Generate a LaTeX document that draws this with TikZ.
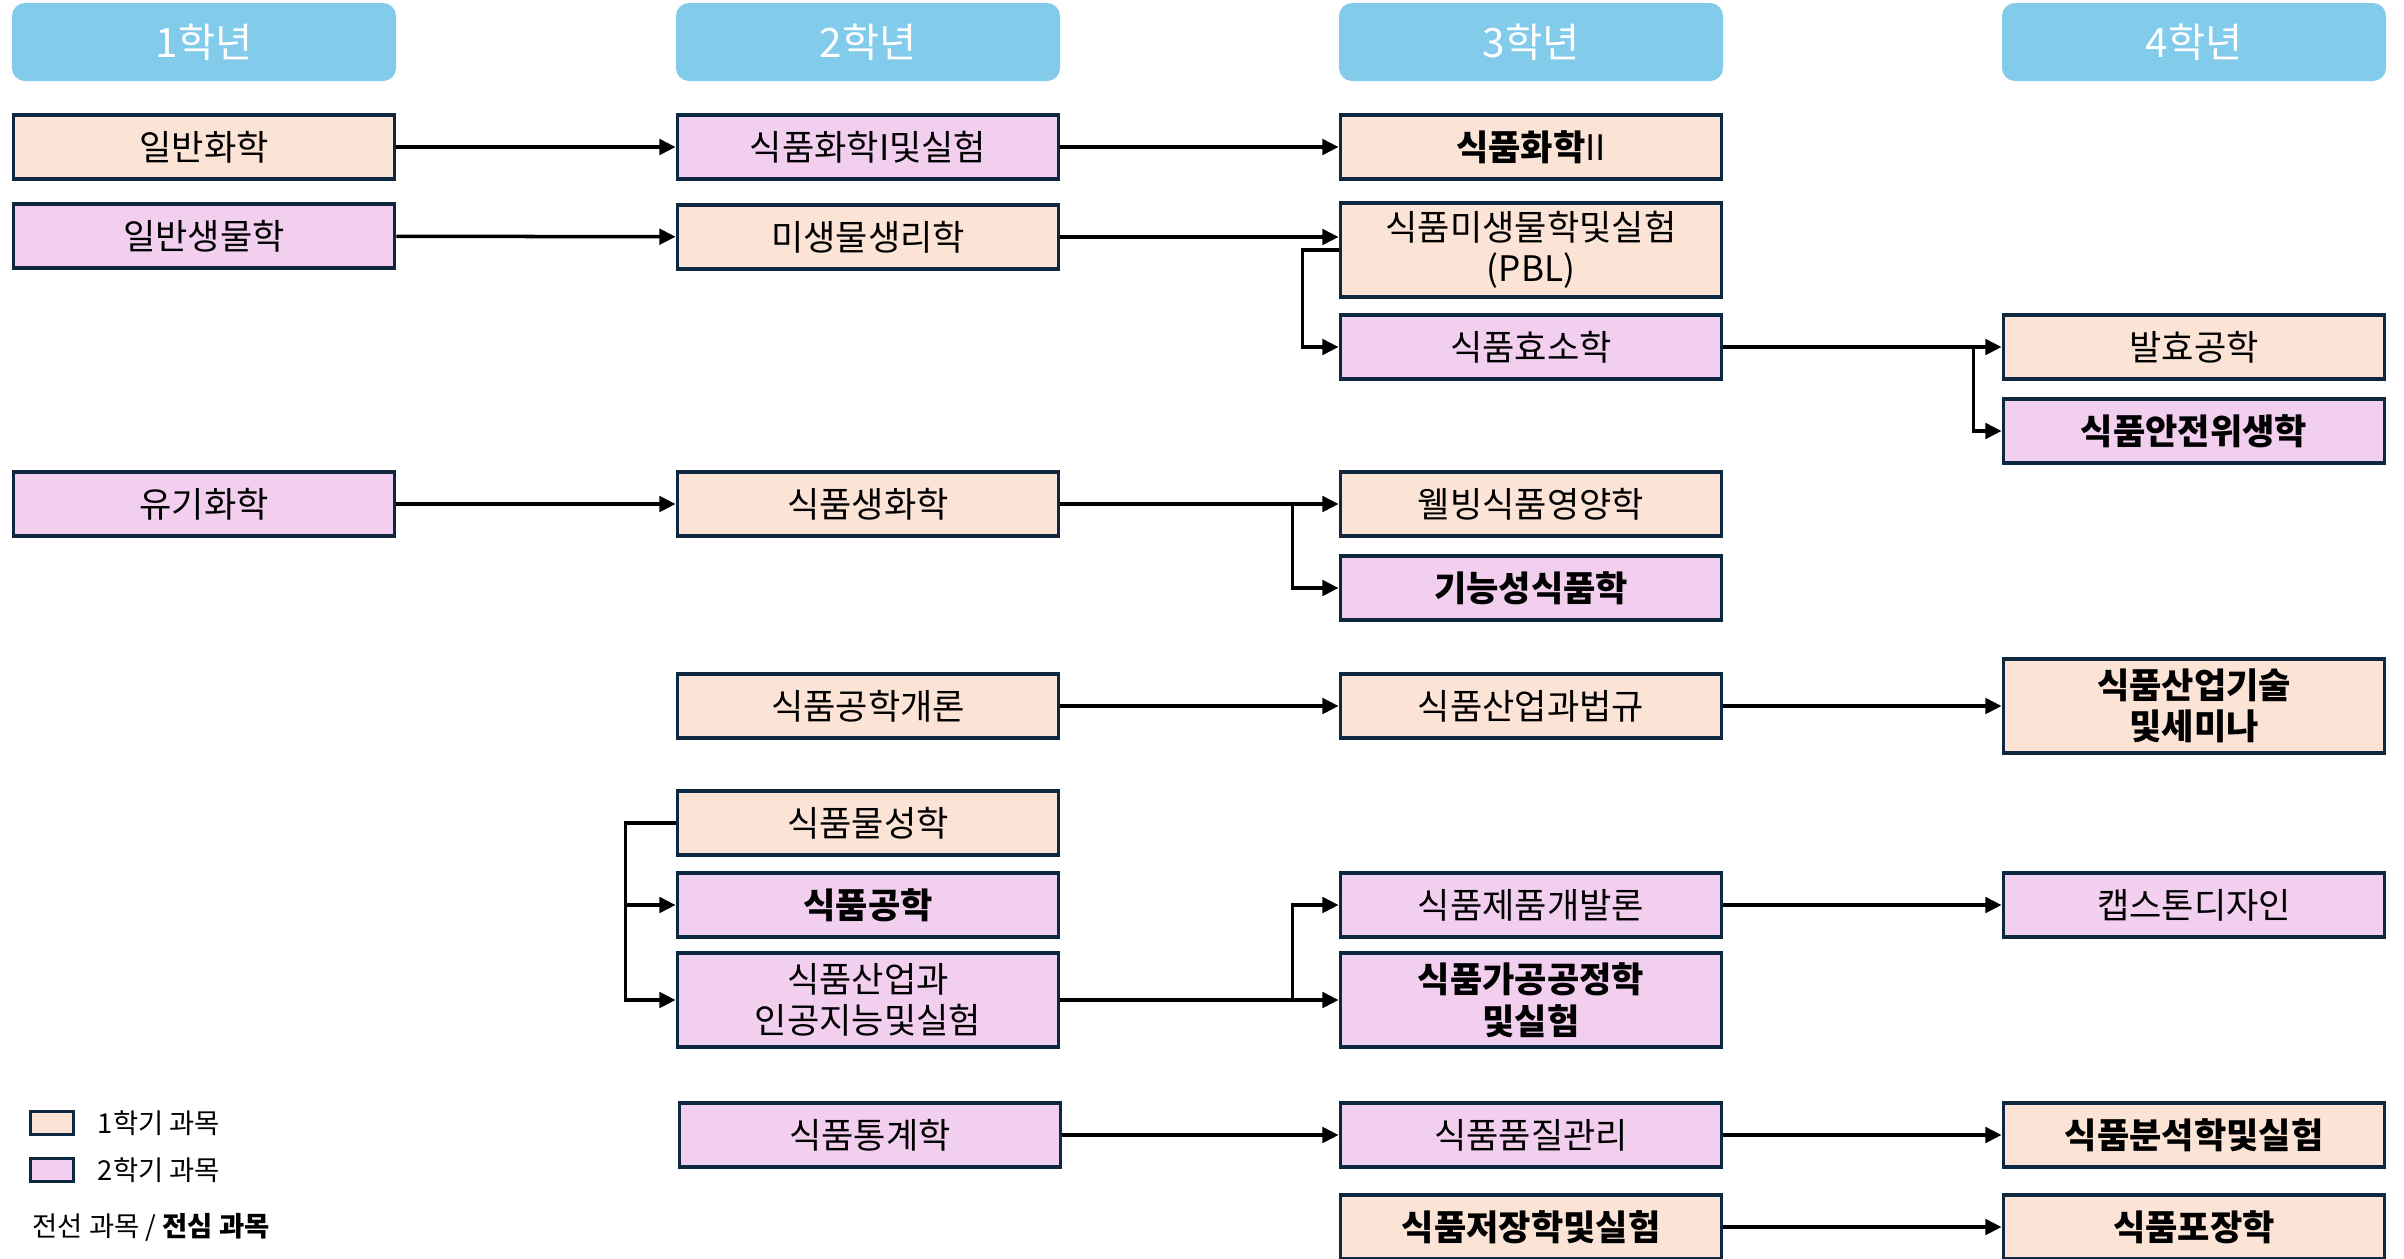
\documentclass[tikz,border=0pt]{standalone}
\usepackage{fontspec}
\setmainfont{Noto Sans CJK KR}
\usepackage{tikz}
\usepackage{xcolor}
\usetikzlibrary{arrows.meta, positioning, calc}
\definecolor{yearBlue}{HTML}{83CBEB}
\definecolor{peachFill}{HTML}{FBE3D6}
\definecolor{pinkFill}{HTML}{F2CEEF}
\definecolor{navyLine}{HTML}{0E2841}
\newcommand{\coursefont}{\fontsize{10pt}{11.8pt}\selectfont}
\newcommand{\yearfont}{\fontsize{11.5pt}{13pt}\selectfont}
\newcommand{\legendfont}{\fontsize{7.8pt}{9pt}\selectfont}

\begin{document}
\begin{tikzpicture}
                \tikzstyle{year} = [rectangle, rounded corners=0.13cm, fill=yearBlue, text=white, minimum width=3.84cm, minimum height=0.78cm, font=\yearfont]
                \tikzstyle{course} = [rectangle, draw=navyLine, line width=1.1pt, minimum width=3.81cm, minimum height=0.645cm, inner sep=0pt, align=center, font=\coursefont]
                \tikzstyle{semA} = [course, fill=peachFill]
                \tikzstyle{semB} = [course, fill=pinkFill]
                \tikzstyle{tall} = [minimum height=0.94cm]
                \tikzstyle{core} = [font=\coursefont\bfseries]
                \tikzstyle{arr} = [line width=1pt, -{Triangle[length=4.6pt, width=4.4pt]}]
                \tikzstyle{legbox} = [rectangle, draw=navyLine, line width=0.9pt, minimum width=0.43cm, minimum height=0.23cm, inner sep=0pt]

                \useasboundingbox (0,0) rectangle (24.04,-12.58);

                % headers
                \node[year] (y1) at (2.04,-0.42) {1학년};
                \node[year] (y2) at (8.68,-0.42) {2학년};
                \node[year] (y3) at (15.31,-0.42) {3학년};
                \node[year] (y4) at (21.94,-0.42) {4학년};

                % 1학년
                \node[semA] (gc) at (2.04,-1.47) {일반화학};
                \node[semB] (gb) at (2.04,-2.36) {일반생물학};
                \node[semB] (oc) at (2.04,-5.04) {유기화학};

                % 2학년
                \node[semB] (fc1) at (8.68,-1.47) {식품화학I및실험};
                \node[semA] (mp) at (8.68,-2.37) {미생물생리학};
                \node[semA] (fb) at (8.68,-5.04) {식품생화학};
                \node[semA] (fi) at (8.68,-7.06) {식품공학개론};
                \node[semA] (fp) at (8.68,-8.23) {식품물성학};
                \node[semB, core] (fen) at (8.68,-9.05) {식품공학};
                \node[semB, tall] (fai) at (8.68,-10.00) {식품산업과\\인공지능및실험};
                \node[semB] (fst) at (8.70,-11.35) {식품통계학};

                % 3학년
                \node[semA] (fc2) at (15.31,-1.47) {{\bfseries 식품화학}II};
                \node[semA, tall] (fm) at (15.31,-2.50) {식품미생물학및실험\\(PBL)};
                \node[semB] (fe) at (15.31,-3.47) {식품효소학};
                \node[semA] (wb) at (15.31,-5.04) {웰빙식품영양학};
                \node[semB, core] (ff) at (15.31,-5.88) {기능성식품학};
                \node[semA] (fl) at (15.31,-7.06) {식품산업과법규};
                \node[semB] (fd) at (15.31,-9.05) {식품제품개발론};
                \node[semB, core, tall] (fpe) at (15.31,-10.00) {식품가공공정학\\및실험};
                \node[semB] (fq) at (15.31,-11.35) {식품품질관리};
                \node[semA, core] (fsto) at (15.31,-12.27) {식품저장학및실험};

                % 4학년
                \node[semA] (fer) at (21.94,-3.47) {발효공학};
                \node[semB, core] (fs) at (21.94,-4.31) {식품안전위생학};
                \node[semA, core, tall] (fsem) at (21.94,-7.06) {식품산업기술\\및세미나};
                \node[semB] (cap) at (21.94,-9.05) {캡스톤디자인};
                \node[semA, core] (fan) at (21.94,-11.35) {식품분석학및실험};
                \node[semA, core] (fpk) at (21.94,-12.27) {식품포장학};

                % connectors
                \draw[arr] (gc) -- (fc1);
                \draw[arr] (gb) -- (mp);
                \draw[arr] (oc) -- (fb);
                \draw[arr] (fc1) -- (fc2);
                \draw[arr] (mp.east) -- (mp.east -| fm.west);
                \draw[arr] (fm.west) -- ++(-0.36,0) |- (fe.west);
                \draw[arr] (fe) -- (fer);
                \draw[arr] (fe.east) -- ++(2.5,0) |- (fs.west);
                \draw[arr] (fb) -- (wb);
                \draw[arr] (fb.east) -- ++(2.32,0) |- (ff.west);
                \draw[arr] (fi) -- (fl);
                \draw[arr] (fl) -- (fsem);
                \draw[arr] (fp.west) -- ++(-0.5,0) |- (fen.west);
                \draw[arr] (fp.west) -- ++(-0.5,0) |- (fai.west);
                \draw[arr] (fai) -- (fpe);
                \draw[arr] (fai.east) -- ++(2.32,0) |- (fd.west);
                \draw[arr] (fd) -- (cap);
                \draw[arr] (fst) -- (fq);
                \draw[arr] (fq) -- (fan);
                \draw[arr] (fsto) -- (fpk);

                % legend
                \node[legbox, fill=peachFill] (leg1) at (0.52,-11.23) {};
                \node[legbox, fill=pinkFill] (leg2) at (0.52,-11.70) {};
                \node[right=0.22cm of leg1, inner sep=0pt, font=\legendfont] (leg1t) {1학기 과목};
                \node[right=0.22cm of leg2, inner sep=0pt, font=\legendfont] (leg2t) {2학기 과목};
                \node[anchor=west, inner sep=0pt, font=\legendfont] (legk) at (0.32,-12.27) {전선 과목 / \textbf{전심 과목}};
            \end{tikzpicture}
\end{document}
